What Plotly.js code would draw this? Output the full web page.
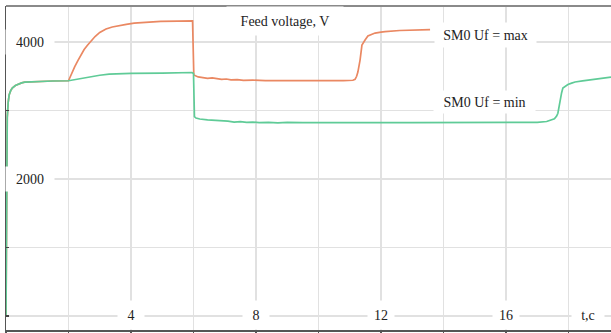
<!DOCTYPE html>
<html>
<head>
<meta charset="utf-8">
<script src="https://cdn.plot.ly/plotly-3.0.1.min.js"></script>
<style>html,body{margin:0;padding:0;background:#fff;}#chart{width:611px;height:333px;}</style>
</head>
<body>
<div id="chart"></div>
<script>
// Series: SM0 Uf = max (orange)
const timeMax = [0, 0.02, 0.04, 0.07, 0.1, 0.15, 0.2, 0.3, 0.4, 0.5, 0.6, 0.8, 1.0, 1.5, 2.0,
  2.1, 2.2, 2.3, 2.4, 2.5, 2.6, 2.7, 2.85, 3.0, 3.2, 3.4, 3.6, 3.85, 4.1, 4.4, 4.7, 4.95, 5.5, 5.97,
  6.01, 6.15, 6.3, 6.45, 6.6, 6.75, 6.9, 7.05, 7.2, 7.4, 7.6, 7.9, 8.3, 8.8, 9.5, 10.2, 10.8, 11.0, 11.1,
  11.17, 11.22, 11.26, 11.33, 11.39, 11.44, 11.49, 11.58, 11.7, 11.81, 12.0, 12.13, 12.6, 13.25, 13.57];
const voltMax = [0, 1800, 2900, 3120, 3226, 3290, 3328, 3365, 3387, 3403, 3414, 3420, 3423, 3431, 3435,
  3545, 3640, 3730, 3815, 3890, 3950, 4005, 4080, 4140, 4190, 4220, 4240, 4258, 4275, 4288, 4296, 4302, 4306, 4309,
  3520, 3490, 3480, 3470, 3478, 3462, 3455, 3460, 3448, 3452, 3440, 3444, 3436, 3438, 3434, 3436, 3438, 3440, 3442,
  3455, 3500, 3562, 3737, 3956, 4000, 4029, 4088, 4115, 4131, 4145, 4153, 4168, 4175, 4182];

// Series: SM0 Uf = min (green)
const timeMin = [0, 0.02, 0.04, 0.07, 0.1, 0.15, 0.2, 0.3, 0.4, 0.5, 0.6, 0.8, 1.0, 1.5, 2.0,
  2.2, 2.4, 2.6, 2.8, 3.0, 3.3, 3.6, 4.0, 5.0, 5.95, 6.0,
  6.03, 6.08, 6.2, 6.45, 6.7, 6.9, 7.1, 7.3, 7.5, 7.7, 7.9, 8.1, 8.4, 8.7, 9.0, 9.5, 10, 11, 12, 13, 14, 15, 16, 17,
  17.3, 17.41, 17.55, 17.62, 17.66, 17.7, 17.73, 17.78, 17.82, 17.9, 17.98, 18.1, 18.21, 18.45, 18.69, 19.0, 19.36];
const voltMin = [0, 1800, 2900, 3120, 3226, 3290, 3328, 3365, 3387, 3403, 3414, 3420, 3423, 3431, 3435,
  3452, 3470, 3487, 3502, 3515, 3530, 3538, 3543, 3547, 3555, 3540,
  2910, 2890, 2876, 2865, 2860, 2850, 2845, 2832, 2838, 2826, 2832, 2822, 2828, 2820, 2826, 2822, 2824, 2822, 2823, 2822, 2822, 2823, 2822, 2828,
  2840, 2855, 2880, 2920, 2960, 3060, 3153, 3260, 3328, 3360, 3380, 3400, 3416, 3432, 3445, 3465, 3489];

// Tick labels
const xTickVals = [4, 8, 12, 16];
const xTickText = ['4', '8', '12', '16'];
const xAxisName = 't,c';
const yTickVals = [2000, 4000];
const yTickText = ['2000', '4000'];
const chartTitle = 'Feed voltage, V';
const seriesNames = ['SM0 Uf = max', 'SM0 Uf = min'];

const font = {family: 'Liberation Serif, Times New Roman, serif', size: 14, color: '#222'};

const traces = [
  {x: timeMax, y: voltMax, type: 'scatter', mode: 'lines', name: seriesNames[0],
   line: {color: '#EA8862', width: 1.7}},
  {x: timeMin, y: voltMin, type: 'scatter', mode: 'lines', name: seriesNames[1],
   line: {color: '#5FCB97', width: 1.7}}
];

const annotations = [];
xTickVals.forEach((v, i) => annotations.push({
  x: v, y: 15, xref: 'x', yref: 'y', text: xTickText[i], showarrow: false,
  bgcolor: '#fff', width: 26, height: 28, borderpad: 0, font: font, xanchor: 'center', yanchor: 'middle'
}));
annotations.push({x: 18.62, y: 15, xref: 'x', yref: 'y', text: xAxisName, showarrow: false,
  bgcolor: '#fff', width: 32, height: 28, borderpad: 0, font: font, xanchor: 'center', yanchor: 'middle'});
yTickVals.forEach((v, i) => annotations.push({
  x: 0.78, y: v, xref: 'x', yref: 'y', text: yTickText[i], showarrow: false,
  bgcolor: '#fff', width: 48, height: 24, borderpad: 0, font: font, xanchor: 'center', yanchor: 'middle'
}));
annotations.push({x: 8.93, y: 4307, xref: 'x', yref: 'y', text: chartTitle, showarrow: false,
  bgcolor: '#fff', width: 116, height: 28, borderpad: 0, font: font, xanchor: 'center', yanchor: 'middle'});
annotations.push({x: 15.34, y: 4110, xref: 'x', yref: 'y', text: seriesNames[0], showarrow: false,
  bgcolor: '#fff', width: 101, height: 24, borderpad: 0, font: font, xanchor: 'center', yanchor: 'middle'});
annotations.push({x: 15.31, y: 3131, xref: 'x', yref: 'y', text: seriesNames[1], showarrow: false,
  bgcolor: '#fff', width: 101, height: 22, borderpad: 0, font: font, xanchor: 'center', yanchor: 'middle'});

const layout = {
  width: 611, height: 333,
  margin: {l: 6, r: 0, t: 6, b: 3, pad: 0},
  paper_bgcolor: '#fff', plot_bgcolor: '#fff',
  showlegend: false,
  font: font,
  xaxis: {range: [0, 19.36], tickmode: 'linear', tick0: 0, dtick: 2, showticklabels: false,
    ticks: 'outside', ticklen: 3, tickcolor: '#555', tickwidth: 1.5,
    showgrid: true, gridcolor: '#e1e1e1', gridwidth: 1.5, zeroline: false,
    showline: true, linecolor: '#555', linewidth: 2},
  yaxis: {range: [-204, 4526], tickmode: 'linear', tick0: 0, dtick: 1000, showticklabels: false,
    ticks: 'inside', ticklen: 3, tickcolor: '#444', tickwidth: 1.5,
    showgrid: true, gridcolor: '#e1e1e1', gridwidth: 1.5, zeroline: false,
    showline: true, linecolor: '#555', linewidth: 1.5},
  shapes: [{type: 'line', xref: 'paper', yref: 'paper', x0: 0, x1: 1, y0: 1, y1: 1,
    line: {color: '#8a8a8a', width: 2}}],
  annotations: annotations
};

Plotly.newPlot('chart', traces, layout, {displayModeBar: false, staticPlot: true});
</script>
</body>
</html>
